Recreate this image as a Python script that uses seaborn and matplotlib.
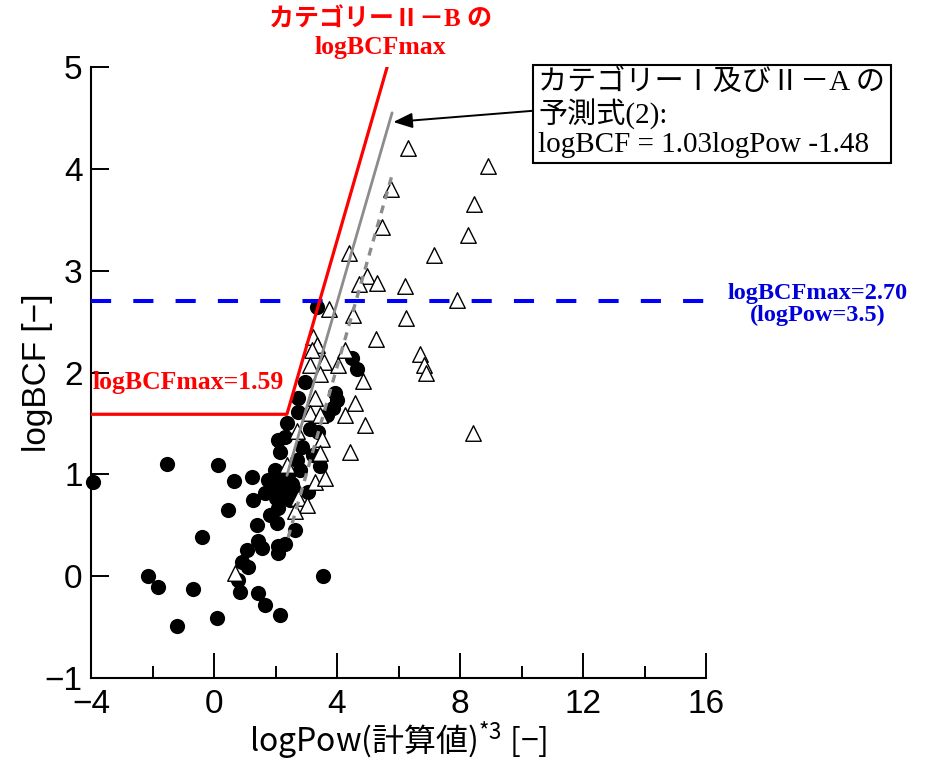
import matplotlib
matplotlib.use("Agg")
import matplotlib.pyplot as plt
import seaborn as sns

# ---------------- data ----------------
circle_x = [-3.93, -1.53, 0.13, 0.65, 1.24, -0.39, -2.15, -1.82, -0.68, -1.20, 0.10,
            0.46, 1.27, 1.66, 2.05, 2.21, 2.37, 2.57, 2.08, 2.31, 2.15, 2.86, 3.22,
            3.45, 2.70, 2.80, 3.06, 2.08, 1.82, 2.05, 1.40, 2.63, 1.43, 2.08, 2.31,
            1.07, 1.56, 2.08, 0.91, 1.11, 0.78, 0.85, 1.43, 1.66, 2.15, 3.54, 3.35,
            4.49, 4.65, 2.96, 2.73, 2.73, 3.93, 4.00, 3.87, 3.67, 2.37, 3.12, 3.38,
            1.98, 2.41, 1.89, 2.47, 2.24, 2.02, 2.54, 1.76]
circle_y = [0.92, 1.10, 1.09, 0.93, 0.97, 0.38, 0.00, -0.11, -0.13, -0.49, -0.41,
            0.65, 0.75, 0.82, 0.92, 0.87, 0.84, 0.87, 1.34, 1.37, 1.22, 1.27, 1.19,
            1.08, 1.14, 1.04, 0.83, 0.67, 0.60, 0.52, 0.50, 0.45, 0.35, 0.30, 0.32,
            0.26, 0.28, 0.23, 0.14, 0.09, -0.04, -0.16, -0.17, -0.28, -0.38, 0.00, 2.64,
            2.14, 2.03, 1.91, 1.75, 1.61, 1.80, 1.73, 1.65, 1.58, 1.50, 1.45, 1.42,
            1.04, 0.99, 0.84, 0.75, 0.78, 0.77, 0.91, 0.94]

tri_x = [6.31, 8.91, 5.76, 8.46, 5.46, 8.26, 4.39, 7.15, 4.98, 4.72, 5.30, 6.21,
         7.90, 3.74, 4.52, 6.24, 3.22, 5.27, 3.35, 3.19, 4.26, 6.70, 6.83, 6.89,
         3.12, 3.58, 4.03, 3.45, 4.85, 3.28, 4.59, 3.12, 3.45, 4.26, 4.91, 2.70,
         3.51, 4.42, 3.45, 8.42, 2.37, 3.28, 3.61, 2.73, 3.02, 2.63, 0.68]
tri_y = [4.20, 4.03, 3.80, 3.65, 3.43, 3.35, 3.17, 3.15, 2.95, 2.87, 2.88, 2.85,
         2.71, 2.62, 2.56, 2.54, 2.35, 2.33, 2.27, 2.22, 2.22, 2.18, 2.07, 2.00,
         2.07, 2.10, 2.07, 1.99, 1.92, 1.75, 1.70, 1.60, 1.58, 1.58, 1.48, 1.43,
         1.35, 1.22, 1.21, 1.41, 1.09, 0.92, 0.96, 0.77, 0.70, 0.64, 0.03]

red_x = [-4.0, 2.37, 5.63]          # カテゴリーII-B の logBCFmax
red_y = [1.59, 1.59, 5.00]
pred_x = [2.37, 5.79]               # 予測式(2)
pred_y = [0.99, 4.55]
dash_x = [2.41, 5.79]               # gray dashed line
dash_y = [0.38, 3.94]
blue_x = [-4.0, 16.0]
blue_y = [2.70, 2.70]

x_ticks = [-4, 0, 4, 8, 12, 16]
x_minor = [-2, 2, 6, 10, 14]
y_ticks = [-1, 0, 1, 2, 3, 4, 5]

# ---------------- style ----------------
sns.set_theme(style="ticks")
plt.rcParams["font.family"] = ["Liberation Sans", "Noto Sans CJK JP"]
plt.rcParams["mathtext.default"] = "regular"
plt.rcParams["text.color"] = "black"
plt.rcParams["axes.labelcolor"] = "black"
serif = ["Liberation Serif", "Noto Sans CJK JP"]

fig = plt.figure(figsize=(9.29, 7.65), dpi=100)
ax = fig.add_axes([0.098, 0.1137, 0.662, 0.7987])

sns.scatterplot(x=circle_x, y=circle_y, ax=ax, marker="o", s=120,
                color="black", edgecolor="black", linewidth=0, zorder=3,
                clip_on=False)
sns.scatterplot(x=tri_x, y=tri_y, ax=ax, marker="^", s=125,
                color="white", edgecolor="black", linewidth=1.0, zorder=3)

sns.lineplot(x=blue_x, y=blue_y, ax=ax, sort=False, estimator=None,
             color="#0000ff", lw=2.9, linestyle=(0, (5.0, 5.5)), zorder=4)
sns.lineplot(x=red_x, y=red_y, ax=ax, sort=False, estimator=None,
             color="#ff0000", lw=2.3, zorder=5)
sns.lineplot(x=pred_x, y=pred_y, ax=ax, sort=False, estimator=None,
             color="#8c8c8c", lw=2.0, zorder=5)
sns.lineplot(x=dash_x, y=dash_y, ax=ax, sort=False, estimator=None,
             color="#8c8c8c", lw=2.4, linestyle=(0, (2.4, 2.0)), zorder=5)

ax.set_xlim(-4, 16)
ax.set_ylim(-1, 5)
ax.set_xticks(x_ticks)
ax.set_xticks(x_minor, minor=True)
ax.set_yticks(y_ticks)
ax.set_xticklabels(["\u2212" + str(-t) if t < 0 else str(t) for t in x_ticks])
ax.set_yticklabels(["\u2212" + str(-t) if t < 0 else str(t) for t in y_ticks])
for s in ["top", "right"]:
    ax.spines[s].set_visible(False)
for s in ["left", "bottom"]:
    ax.spines[s].set_linewidth(1.5)
    ax.spines[s].set_color("black")
ax.tick_params(axis="x", which="major", direction="in", length=18, width=1.4,
               labelsize=24, pad=8, colors="black")
ax.tick_params(axis="x", which="minor", direction="in", length=9, width=1.4,
               colors="black")
ax.tick_params(axis="y", which="major", direction="in", length=13, width=1.4,
               labelsize=24, pad=6, colors="black")

ax.set_xlabel("logPow(計算値)$^{*3}$ [\u2212]", fontsize=23, labelpad=0,
              family=["Noto Sans CJK JP"], color="black")
ax.set_ylabel("logBCF [\u2212]", fontsize=24, labelpad=-6, color="black")

# ---------------- annotations ----------------
ax.text(-3.95, 1.90, "logBCFmax=1.59", color="#ff0000", fontsize=18.5,
        fontweight="bold", family=serif, ha="left", va="center", zorder=6)
ax.text(5.40, 5.46, "カテゴリーⅡ－B の", color="#ff0000", fontsize=18,
        fontweight="bold", family=serif, ha="center", va="center", clip_on=False)
ax.text(5.40, 5.19, "logBCFmax", color="#ff0000", fontsize=18.5,
        fontweight="bold", family=serif, ha="center", va="center", clip_on=False)
ax.text(19.64, 2.67, "logBCFmax=2.70\n(logPow=3.5)", color="#0000dd", fontsize=17.5,
        fontweight="bold", family=serif, ha="center", va="center",
        linespacing=1.05, clip_on=False)
ax.annotate("カテゴリーⅠ及びⅡ－A の\n予測式(2):\nlogBCF = 1.03logPow -1.48",
            xy=(5.83, 4.46), xytext=(10.55, 4.54), textcoords="data",
            fontsize=21, family=serif, ha="left", va="center", linespacing=1.08,
            color="black", annotation_clip=False,
            bbox=dict(boxstyle="square,pad=0.18", fc="white", ec="black", lw=1.5),
            arrowprops=dict(arrowstyle="-|>,head_length=0.55,head_width=0.22",
                            color="black", lw=1.4, relpos=(0, 0.54),
                            shrinkA=0, shrinkB=0))

fig.savefig("out.png", dpi=100)
